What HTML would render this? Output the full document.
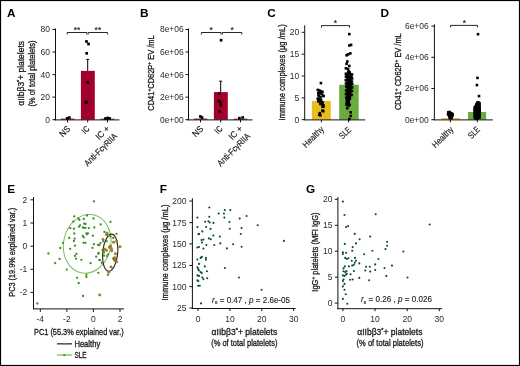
<!DOCTYPE html>
<html><head><meta charset="utf-8"><style>
html,body{margin:0;padding:0;background:#fff;}
svg{display:block;}
text{font-family:"Liberation Sans", sans-serif;}
</style></head><body>
<div style="will-change:transform;width:520px;height:366px;"><svg width="520" height="366" viewBox="0 0 520 366" font-family='"Liberation Sans", sans-serif'>
<rect width="520" height="366" fill="#fff"/>
<line x1="55.50" y1="28.50" x2="55.50" y2="120.20" stroke="#111" stroke-width="1"/>
<line x1="52.50" y1="29.50" x2="55.50" y2="29.50" stroke="#111" stroke-width="1"/>
<text x="50.00" y="32.40" font-size="9.0" text-anchor="end" fill="#2a2a2a" textLength="9.45" lengthAdjust="spacingAndGlyphs" >80</text>
<line x1="52.50" y1="52.05" x2="55.50" y2="52.05" stroke="#111" stroke-width="1"/>
<text x="50.00" y="54.95" font-size="9.0" text-anchor="end" fill="#2a2a2a" textLength="9.45" lengthAdjust="spacingAndGlyphs" >60</text>
<line x1="52.50" y1="74.60" x2="55.50" y2="74.60" stroke="#111" stroke-width="1"/>
<text x="50.00" y="77.50" font-size="9.0" text-anchor="end" fill="#2a2a2a" textLength="9.45" lengthAdjust="spacingAndGlyphs" >40</text>
<line x1="52.50" y1="97.15" x2="55.50" y2="97.15" stroke="#111" stroke-width="1"/>
<text x="50.00" y="100.05" font-size="9.0" text-anchor="end" fill="#2a2a2a" textLength="9.45" lengthAdjust="spacingAndGlyphs" >20</text>
<line x1="52.50" y1="119.70" x2="55.50" y2="119.70" stroke="#111" stroke-width="1"/>
<text x="50.00" y="122.60" font-size="9.0" text-anchor="end" fill="#2a2a2a" textLength="4.73" lengthAdjust="spacingAndGlyphs" >0</text>
<rect x="60.80" y="118.60" width="13.60" height="1.10" fill="#a3002b"/>
<rect x="80.90" y="70.90" width="13.90" height="48.80" fill="#a3002b"/>
<rect x="100.60" y="118.70" width="13.80" height="1.00" fill="#a3002b"/>
<line x1="87.70" y1="70.90" x2="87.70" y2="59.40" stroke="#000" stroke-width="1"/>
<line x1="86.20" y1="59.40" x2="89.20" y2="59.40" stroke="#000" stroke-width="1"/>
<line x1="54.50" y1="119.90" x2="119.50" y2="119.90" stroke="#111" stroke-width="1"/>
<line x1="67.50" y1="119.90" x2="67.50" y2="122.40" stroke="#111" stroke-width="1"/>
<line x1="87.70" y1="119.90" x2="87.70" y2="122.40" stroke="#111" stroke-width="1"/>
<line x1="107.50" y1="119.90" x2="107.50" y2="122.40" stroke="#111" stroke-width="1"/>
<rect x="65.85" y="117.05" width="2.7" height="2.7" fill="#000"/>
<rect x="67.95" y="116.25" width="2.7" height="2.7" fill="#000"/>
<rect x="85.15" y="40.15" width="2.7" height="2.7" fill="#000"/>
<rect x="87.15" y="42.65" width="2.7" height="2.7" fill="#000"/>
<rect x="85.35" y="51.95" width="2.7" height="2.7" fill="#000"/>
<rect x="86.25" y="81.15" width="2.7" height="2.7" fill="#000"/>
<rect x="85.15" y="100.55" width="2.7" height="2.7" fill="#000"/>
<rect x="84.65" y="101.25" width="2.7" height="2.7" fill="#000"/>
<rect x="104.15" y="117.15" width="2.7" height="2.7" fill="#000"/>
<rect x="106.25" y="116.65" width="2.7" height="2.7" fill="#000"/>
<rect x="108.25" y="117.15" width="2.7" height="2.7" fill="#000"/>
<polyline points="67.20,34.50 67.20,32.50 86.90,32.50 86.90,34.50" fill="none" stroke="#111" stroke-width="0.9"/>
<polyline points="88.20,34.50 88.20,32.50 107.60,32.50 107.60,34.50" fill="none" stroke="#111" stroke-width="0.9"/>
<text x="77.00" y="32.70" font-size="8.5" text-anchor="middle" fill="#111" stroke="#111" stroke-width="0.1" >**</text>
<text x="97.90" y="32.70" font-size="8.5" text-anchor="middle" fill="#111" stroke="#111" stroke-width="0.1" >**</text>
<text x="0" y="0" font-size="8.8" text-anchor="end" fill="#1a1a1a" stroke="#1a1a1a" stroke-width="0.18" textLength="11.50" lengthAdjust="spacingAndGlyphs" transform="translate(70.90,129.40) rotate(-45)" >NS</text>
<text x="0" y="0" font-size="8.8" text-anchor="end" fill="#1a1a1a" stroke="#1a1a1a" stroke-width="0.18" textLength="7.20" lengthAdjust="spacingAndGlyphs" transform="translate(90.20,129.40) rotate(-45)" >IC</text>
<text x="0" y="0" font-size="8.8" text-anchor="end" fill="#1a1a1a" stroke="#1a1a1a" stroke-width="0.18" textLength="15.50" lengthAdjust="spacingAndGlyphs" transform="translate(110.20,129.40) rotate(-45)" >IC +</text>
<text x="0" y="0" font-size="8.8" text-anchor="end" fill="#1a1a1a" stroke="#1a1a1a" stroke-width="0.18" textLength="42.50" lengthAdjust="spacingAndGlyphs" transform="translate(117.80,136.60) rotate(-45)" >Anti-Fc&#947;RIIA</text>
<text x="7.00" y="16.90" font-size="11.8" text-anchor="start" fill="#000" font-weight="bold" >A</text>
<text x="0" y="0" font-size="9.3" text-anchor="middle" fill="#1a1a1a" stroke="#1a1a1a" stroke-width="0.32" textLength="64.70" lengthAdjust="spacingAndGlyphs" transform="translate(23.50,73.40) rotate(-90)" >&#945;IIb&#946;3<tspan font-size="6" dy="-2.5">*</tspan><tspan dy="2.5">+ platelets</tspan></text>
<text x="0" y="0" font-size="9.3" text-anchor="middle" fill="#1a1a1a" stroke="#1a1a1a" stroke-width="0.32" textLength="66.00" lengthAdjust="spacingAndGlyphs" transform="translate(35.20,73.50) rotate(-90)" >(% of total platelets)</text>
<line x1="188.50" y1="28.50" x2="188.50" y2="120.20" stroke="#111" stroke-width="1"/>
<line x1="185.50" y1="29.50" x2="188.50" y2="29.50" stroke="#111" stroke-width="1"/>
<text x="183.80" y="32.40" font-size="9.0" text-anchor="end" fill="#2a2a2a" textLength="23.87" lengthAdjust="spacingAndGlyphs" >8e+06</text>
<line x1="185.50" y1="52.05" x2="188.50" y2="52.05" stroke="#111" stroke-width="1"/>
<text x="183.80" y="54.95" font-size="9.0" text-anchor="end" fill="#2a2a2a" textLength="23.87" lengthAdjust="spacingAndGlyphs" >6e+06</text>
<line x1="185.50" y1="74.60" x2="188.50" y2="74.60" stroke="#111" stroke-width="1"/>
<text x="183.80" y="77.50" font-size="9.0" text-anchor="end" fill="#2a2a2a" textLength="23.87" lengthAdjust="spacingAndGlyphs" >4e+06</text>
<line x1="185.50" y1="97.15" x2="188.50" y2="97.15" stroke="#111" stroke-width="1"/>
<text x="183.80" y="100.05" font-size="9.0" text-anchor="end" fill="#2a2a2a" textLength="23.87" lengthAdjust="spacingAndGlyphs" >2e+06</text>
<line x1="185.50" y1="119.70" x2="188.50" y2="119.70" stroke="#111" stroke-width="1"/>
<text x="183.80" y="122.60" font-size="9.0" text-anchor="end" fill="#2a2a2a" textLength="23.87" lengthAdjust="spacingAndGlyphs" >0e+00</text>
<rect x="193.80" y="118.60" width="13.60" height="1.10" fill="#a3002b"/>
<rect x="213.90" y="92.10" width="13.90" height="27.60" fill="#a3002b"/>
<rect x="233.60" y="118.70" width="13.80" height="1.00" fill="#a3002b"/>
<line x1="220.70" y1="92.10" x2="220.70" y2="81.20" stroke="#000" stroke-width="1"/>
<line x1="219.20" y1="81.20" x2="222.20" y2="81.20" stroke="#000" stroke-width="1"/>
<line x1="187.50" y1="119.90" x2="252.50" y2="119.90" stroke="#111" stroke-width="1"/>
<line x1="200.50" y1="119.90" x2="200.50" y2="122.40" stroke="#111" stroke-width="1"/>
<line x1="220.70" y1="119.90" x2="220.70" y2="122.40" stroke="#111" stroke-width="1"/>
<line x1="240.50" y1="119.90" x2="240.50" y2="122.40" stroke="#111" stroke-width="1"/>
<rect x="199.05" y="115.15" width="2.7" height="2.7" fill="#000"/>
<rect x="200.65" y="116.25" width="2.7" height="2.7" fill="#000"/>
<rect x="238.05" y="116.85" width="2.7" height="2.7" fill="#000"/>
<rect x="241.35" y="116.15" width="2.7" height="2.7" fill="#000"/>
<rect x="219.75" y="38.85" width="2.7" height="2.7" fill="#000"/>
<rect x="217.85" y="92.35" width="2.7" height="2.7" fill="#000"/>
<rect x="217.35" y="99.45" width="2.7" height="2.7" fill="#000"/>
<rect x="218.85" y="100.95" width="2.7" height="2.7" fill="#000"/>
<rect x="219.45" y="103.85" width="2.7" height="2.7" fill="#000"/>
<rect x="218.25" y="110.15" width="2.7" height="2.7" fill="#000"/>
<polyline points="201.40,34.50 201.40,32.50 221.10,32.50 221.10,34.50" fill="none" stroke="#111" stroke-width="0.9"/>
<polyline points="222.40,34.50 222.40,32.50 241.80,32.50 241.80,34.50" fill="none" stroke="#111" stroke-width="0.9"/>
<text x="211.20" y="32.70" font-size="8.5" text-anchor="middle" fill="#111" stroke="#111" stroke-width="0.1" >*</text>
<text x="232.10" y="32.70" font-size="8.5" text-anchor="middle" fill="#111" stroke="#111" stroke-width="0.1" >*</text>
<text x="0" y="0" font-size="8.8" text-anchor="end" fill="#1a1a1a" stroke="#1a1a1a" stroke-width="0.18" textLength="11.50" lengthAdjust="spacingAndGlyphs" transform="translate(203.90,129.40) rotate(-45)" >NS</text>
<text x="0" y="0" font-size="8.8" text-anchor="end" fill="#1a1a1a" stroke="#1a1a1a" stroke-width="0.18" textLength="7.20" lengthAdjust="spacingAndGlyphs" transform="translate(223.20,129.40) rotate(-45)" >IC</text>
<text x="0" y="0" font-size="8.8" text-anchor="end" fill="#1a1a1a" stroke="#1a1a1a" stroke-width="0.18" textLength="15.50" lengthAdjust="spacingAndGlyphs" transform="translate(243.20,129.40) rotate(-45)" >IC +</text>
<text x="0" y="0" font-size="8.8" text-anchor="end" fill="#1a1a1a" stroke="#1a1a1a" stroke-width="0.18" textLength="42.50" lengthAdjust="spacingAndGlyphs" transform="translate(250.80,136.60) rotate(-45)" >Anti-Fc&#947;RIIA</text>
<text x="140.00" y="16.90" font-size="11.8" text-anchor="start" fill="#000" font-weight="bold" >B</text>
<text x="0" y="0" font-size="9.3" text-anchor="middle" fill="#1a1a1a" stroke="#1a1a1a" stroke-width="0.32" textLength="75.40" lengthAdjust="spacingAndGlyphs" transform="translate(154.20,73.00) rotate(-90)" >CD41<tspan font-size="6" dy="-3">+</tspan><tspan dy="3">CD62P</tspan><tspan font-size="6" dy="-3">+</tspan><tspan dy="3"> EV /mL</tspan></text>
<text x="267.30" y="16.90" font-size="11.8" text-anchor="start" fill="#000" font-weight="bold" >C</text>
<line x1="304.70" y1="25.30" x2="304.70" y2="120.20" stroke="#111" stroke-width="1"/>
<line x1="301.70" y1="32.30" x2="304.70" y2="32.30" stroke="#111" stroke-width="1"/>
<text x="299.30" y="35.20" font-size="9.0" text-anchor="end" fill="#2a2a2a" textLength="9.45" lengthAdjust="spacingAndGlyphs" >20</text>
<line x1="301.70" y1="54.15" x2="304.70" y2="54.15" stroke="#111" stroke-width="1"/>
<text x="299.30" y="57.05" font-size="9.0" text-anchor="end" fill="#2a2a2a" textLength="9.45" lengthAdjust="spacingAndGlyphs" >15</text>
<line x1="301.70" y1="76.00" x2="304.70" y2="76.00" stroke="#111" stroke-width="1"/>
<text x="299.30" y="78.90" font-size="9.0" text-anchor="end" fill="#2a2a2a" textLength="9.45" lengthAdjust="spacingAndGlyphs" >10</text>
<line x1="301.70" y1="97.85" x2="304.70" y2="97.85" stroke="#111" stroke-width="1"/>
<text x="299.30" y="100.75" font-size="9.0" text-anchor="end" fill="#2a2a2a" textLength="4.73" lengthAdjust="spacingAndGlyphs" >5</text>
<line x1="301.70" y1="119.70" x2="304.70" y2="119.70" stroke="#111" stroke-width="1"/>
<text x="299.30" y="122.60" font-size="9.0" text-anchor="end" fill="#2a2a2a" textLength="4.73" lengthAdjust="spacingAndGlyphs" >0</text>
<rect x="311.90" y="100.90" width="18.90" height="18.80" fill="#e9bd1c"/>
<rect x="339.20" y="84.80" width="19.50" height="34.90" fill="#6aab3e"/>
<line x1="304.20" y1="119.90" x2="365.20" y2="119.90" stroke="#111" stroke-width="1"/>
<line x1="321.40" y1="119.90" x2="321.40" y2="122.40" stroke="#111" stroke-width="1"/>
<line x1="348.50" y1="119.90" x2="348.50" y2="122.40" stroke="#111" stroke-width="1"/>
<polyline points="321.40,27.60 321.40,25.60 349.50,25.60 349.50,27.60" fill="none" stroke="#111" stroke-width="0.9"/>
<text x="335.30" y="25.60" font-size="8.5" text-anchor="middle" fill="#111" stroke="#111" stroke-width="0.1" >*</text>
<rect x="319.60" y="81.80" width="2.6" height="2.6" fill="#000"/>
<rect x="316.50" y="88.60" width="2.6" height="2.6" fill="#000"/>
<rect x="318.00" y="89.10" width="2.6" height="2.6" fill="#000"/>
<rect x="319.60" y="90.10" width="2.6" height="2.6" fill="#000"/>
<rect x="321.20" y="90.60" width="2.6" height="2.6" fill="#000"/>
<rect x="317.00" y="91.70" width="2.6" height="2.6" fill="#000"/>
<rect x="318.60" y="91.20" width="2.6" height="2.6" fill="#000"/>
<rect x="321.70" y="94.30" width="2.6" height="2.6" fill="#000"/>
<rect x="322.20" y="94.80" width="2.6" height="2.6" fill="#000"/>
<rect x="317.50" y="94.80" width="2.6" height="2.6" fill="#000"/>
<rect x="319.10" y="95.80" width="2.6" height="2.6" fill="#000"/>
<rect x="316.50" y="97.40" width="2.6" height="2.6" fill="#000"/>
<rect x="318.00" y="97.90" width="2.6" height="2.6" fill="#000"/>
<rect x="319.60" y="98.40" width="2.6" height="2.6" fill="#000"/>
<rect x="317.00" y="100.00" width="2.6" height="2.6" fill="#000"/>
<rect x="318.60" y="100.50" width="2.6" height="2.6" fill="#000"/>
<rect x="321.20" y="101.00" width="2.6" height="2.6" fill="#000"/>
<rect x="319.10" y="102.60" width="2.6" height="2.6" fill="#000"/>
<rect x="321.20" y="103.10" width="2.6" height="2.6" fill="#000"/>
<rect x="322.20" y="104.10" width="2.6" height="2.6" fill="#000"/>
<rect x="321.20" y="105.20" width="2.6" height="2.6" fill="#000"/>
<rect x="322.00" y="105.50" width="2.6" height="2.6" fill="#000"/>
<rect x="321.20" y="109.30" width="2.6" height="2.6" fill="#000"/>
<rect x="322.00" y="109.90" width="2.6" height="2.6" fill="#000"/>
<rect x="318.60" y="111.90" width="2.6" height="2.6" fill="#000"/>
<rect x="318.00" y="113.50" width="2.6" height="2.6" fill="#000"/>
<rect x="319.10" y="114.00" width="2.6" height="2.6" fill="#000"/>
<rect x="317.20" y="93.20" width="2.6" height="2.6" fill="#000"/>
<rect x="320.20" y="92.70" width="2.6" height="2.6" fill="#000"/>
<rect x="319.70" y="99.20" width="2.6" height="2.6" fill="#000"/>
<rect x="348.00" y="32.80" width="2.6" height="2.6" fill="#000"/>
<rect x="348.00" y="44.20" width="2.6" height="2.6" fill="#000"/>
<rect x="349.80" y="43.60" width="2.6" height="2.6" fill="#000"/>
<rect x="345.30" y="54.00" width="2.6" height="2.6" fill="#000"/>
<rect x="346.70" y="53.10" width="2.6" height="2.6" fill="#000"/>
<rect x="349.00" y="52.10" width="2.6" height="2.6" fill="#000"/>
<rect x="346.00" y="60.20" width="2.6" height="2.6" fill="#000"/>
<rect x="345.30" y="62.50" width="2.6" height="2.6" fill="#000"/>
<rect x="348.00" y="64.70" width="2.6" height="2.6" fill="#000"/>
<rect x="344.60" y="67.00" width="2.6" height="2.6" fill="#000"/>
<rect x="346.70" y="67.70" width="2.6" height="2.6" fill="#000"/>
<rect x="347.40" y="70.10" width="2.6" height="2.6" fill="#000"/>
<rect x="348.00" y="71.10" width="2.6" height="2.6" fill="#000"/>
<rect x="345.30" y="73.80" width="2.6" height="2.6" fill="#000"/>
<rect x="347.40" y="74.50" width="2.6" height="2.6" fill="#000"/>
<rect x="349.40" y="73.80" width="2.6" height="2.6" fill="#000"/>
<rect x="350.10" y="75.20" width="2.6" height="2.6" fill="#000"/>
<rect x="345.30" y="103.50" width="2.6" height="2.6" fill="#000"/>
<rect x="347.40" y="104.20" width="2.6" height="2.6" fill="#000"/>
<rect x="346.00" y="106.90" width="2.6" height="2.6" fill="#000"/>
<rect x="349.40" y="111.00" width="2.6" height="2.6" fill="#000"/>
<rect x="349.40" y="114.70" width="2.6" height="2.6" fill="#000"/>
<rect x="348.00" y="117.80" width="2.6" height="2.6" fill="#000"/>
<polygon points="347.20,71.00 346.30,74.00 346.20,80.00 346.30,96.00 346.60,100.00 346.50,103.50 347.80,105.50 350.20,105.50 349.90,103.50 350.20,100.00 351.30,96.00 351.80,88.00 351.80,80.00 351.60,74.00 350.50,71.00" fill="#000"/>
<rect x="350.70" y="73.20" width="2.6" height="2.6" fill="#000"/>
<rect x="350.80" y="77.20" width="2.6" height="2.6" fill="#000"/>
<rect x="350.60" y="80.20" width="2.6" height="2.6" fill="#000"/>
<rect x="350.90" y="82.70" width="2.6" height="2.6" fill="#000"/>
<rect x="350.80" y="86.20" width="2.6" height="2.6" fill="#000"/>
<rect x="350.70" y="89.70" width="2.6" height="2.6" fill="#000"/>
<rect x="350.30" y="93.70" width="2.6" height="2.6" fill="#000"/>
<rect x="344.60" y="72.50" width="2.6" height="2.6" fill="#000"/>
<rect x="344.70" y="75.50" width="2.6" height="2.6" fill="#000"/>
<rect x="344.50" y="78.90" width="2.6" height="2.6" fill="#000"/>
<rect x="344.70" y="82.20" width="2.6" height="2.6" fill="#000"/>
<rect x="345.00" y="85.20" width="2.6" height="2.6" fill="#000"/>
<rect x="344.90" y="89.20" width="2.6" height="2.6" fill="#000"/>
<rect x="344.70" y="92.70" width="2.6" height="2.6" fill="#000"/>
<rect x="345.10" y="96.20" width="2.6" height="2.6" fill="#000"/>
<rect x="345.30" y="101.30" width="2.6" height="2.6" fill="#000"/>
<rect x="348.30" y="103.60" width="2.6" height="2.6" fill="#000"/>
<rect x="345.50" y="98.30" width="2.6" height="2.6" fill="#000"/>
<rect x="348.60" y="97.30" width="2.6" height="2.6" fill="#000"/>
<text x="0" y="0" font-size="9.3" text-anchor="middle" fill="#1a1a1a" stroke="#1a1a1a" stroke-width="0.32" textLength="96.20" lengthAdjust="spacingAndGlyphs" transform="translate(284.70,72.30) rotate(-90)" >Immune complexes (&#956;g /mL)</text>
<text x="0" y="0" font-size="8.8" text-anchor="end" fill="#1a1a1a" stroke="#1a1a1a" stroke-width="0.18" textLength="26.00" lengthAdjust="spacingAndGlyphs" transform="translate(324.40,129.80) rotate(-45)" >Healthy</text>
<text x="0" y="0" font-size="8.8" text-anchor="end" fill="#1a1a1a" stroke="#1a1a1a" stroke-width="0.18" textLength="13.00" lengthAdjust="spacingAndGlyphs" transform="translate(351.80,130.40) rotate(-45)" >SLE</text>
<text x="380.50" y="16.90" font-size="11.8" text-anchor="start" fill="#000" font-weight="bold" >D</text>
<line x1="434.40" y1="24.30" x2="434.40" y2="120.20" stroke="#111" stroke-width="1"/>
<line x1="431.40" y1="26.10" x2="434.40" y2="26.10" stroke="#111" stroke-width="1"/>
<text x="428.80" y="29.00" font-size="9.0" text-anchor="end" fill="#2a2a2a" textLength="23.87" lengthAdjust="spacingAndGlyphs" >6e+06</text>
<line x1="431.40" y1="57.30" x2="434.40" y2="57.30" stroke="#111" stroke-width="1"/>
<text x="428.80" y="60.20" font-size="9.0" text-anchor="end" fill="#2a2a2a" textLength="23.87" lengthAdjust="spacingAndGlyphs" >4e+06</text>
<line x1="431.40" y1="88.50" x2="434.40" y2="88.50" stroke="#111" stroke-width="1"/>
<text x="428.80" y="91.40" font-size="9.0" text-anchor="end" fill="#2a2a2a" textLength="23.87" lengthAdjust="spacingAndGlyphs" >2e+06</text>
<line x1="431.40" y1="119.70" x2="434.40" y2="119.70" stroke="#111" stroke-width="1"/>
<text x="428.80" y="122.60" font-size="9.0" text-anchor="end" fill="#2a2a2a" textLength="23.87" lengthAdjust="spacingAndGlyphs" >0e+00</text>
<rect x="441.50" y="118.10" width="18.30" height="1.60" fill="#e9bd1c"/>
<rect x="468.00" y="112.00" width="18.20" height="7.70" fill="#6aab3e"/>
<line x1="433.90" y1="119.90" x2="492.80" y2="119.90" stroke="#111" stroke-width="1"/>
<line x1="450.40" y1="119.90" x2="450.40" y2="122.40" stroke="#111" stroke-width="1"/>
<line x1="477.30" y1="119.90" x2="477.30" y2="122.40" stroke="#111" stroke-width="1"/>
<polyline points="450.60,27.40 450.60,25.40 477.50,25.40 477.50,27.40" fill="none" stroke="#111" stroke-width="0.9"/>
<text x="464.30" y="25.70" font-size="8.5" text-anchor="middle" fill="#111" stroke="#111" stroke-width="0.1" >*</text>
<rect x="476.70" y="32.90" width="2.6" height="2.6" fill="#000"/>
<rect x="476.20" y="76.60" width="2.6" height="2.6" fill="#000"/>
<rect x="475.60" y="83.80" width="2.6" height="2.6" fill="#000"/>
<rect x="477.70" y="94.80" width="2.6" height="2.6" fill="#000"/>
<rect x="447.00" y="111.00" width="2.6" height="2.6" fill="#000"/>
<rect x="448.30" y="110.70" width="2.6" height="2.6" fill="#000"/>
<rect x="449.50" y="111.90" width="2.6" height="2.6" fill="#000"/>
<rect x="451.00" y="112.70" width="2.6" height="2.6" fill="#000"/>
<rect x="451.30" y="114.20" width="2.6" height="2.6" fill="#000"/>
<rect x="446.70" y="112.90" width="2.6" height="2.6" fill="#000"/>
<rect x="448.20" y="113.90" width="2.6" height="2.6" fill="#000"/>
<rect x="449.70" y="114.70" width="2.6" height="2.6" fill="#000"/>
<rect x="448.20" y="115.70" width="2.6" height="2.6" fill="#000"/>
<rect x="450.20" y="116.00" width="2.6" height="2.6" fill="#000"/>
<rect x="449.00" y="116.90" width="2.6" height="2.6" fill="#000"/>
<rect x="476.30" y="101.00" width="2.6" height="2.6" fill="#000"/>
<rect x="478.00" y="101.90" width="2.6" height="2.6" fill="#000"/>
<rect x="475.50" y="103.20" width="2.6" height="2.6" fill="#000"/>
<rect x="477.30" y="104.00" width="2.6" height="2.6" fill="#000"/>
<rect x="473.70" y="106.00" width="2.6" height="2.6" fill="#000"/>
<rect x="475.30" y="106.50" width="2.6" height="2.6" fill="#000"/>
<rect x="477.50" y="106.90" width="2.6" height="2.6" fill="#000"/>
<rect x="478.30" y="109.00" width="2.6" height="2.6" fill="#000"/>
<rect x="473.40" y="108.90" width="2.6" height="2.6" fill="#000"/>
<rect x="475.50" y="109.70" width="2.6" height="2.6" fill="#000"/>
<rect x="477.50" y="111.00" width="2.6" height="2.6" fill="#000"/>
<rect x="473.70" y="111.70" width="2.6" height="2.6" fill="#000"/>
<rect x="475.30" y="113.20" width="2.6" height="2.6" fill="#000"/>
<rect x="477.70" y="113.90" width="2.6" height="2.6" fill="#000"/>
<rect x="473.50" y="114.70" width="2.6" height="2.6" fill="#000"/>
<rect x="475.20" y="116.20" width="2.6" height="2.6" fill="#000"/>
<rect x="477.30" y="116.30" width="2.6" height="2.6" fill="#000"/>
<rect x="474.20" y="117.20" width="2.6" height="2.6" fill="#000"/>
<rect x="476.20" y="117.30" width="2.6" height="2.6" fill="#000"/>
<rect x="478.10" y="105.30" width="2.6" height="2.6" fill="#000"/>
<polygon points="477.50,101.00 475.90,102.30 474.60,105.30 473.40,107.00 473.40,118.80 480.90,118.80 480.90,106.20 480.60,102.50 479.00,101.00" fill="#000"/>
<polygon points="448.10,111.30 447.30,113.00 447.40,116.00 448.60,117.00 448.60,119.30 452.90,119.30 452.90,117.20 453.80,115.20 453.50,113.00 451.30,112.00 450.00,111.30" fill="#000"/>
<text x="0" y="0" font-size="9.3" text-anchor="middle" fill="#1a1a1a" stroke="#1a1a1a" stroke-width="0.32" textLength="76.80" lengthAdjust="spacingAndGlyphs" transform="translate(400.50,71.70) rotate(-90)" >CD41<tspan font-size="6" dy="-3">+</tspan><tspan dy="3"> CD62P</tspan><tspan font-size="6" dy="-3">+</tspan><tspan dy="3"> EV /mL</tspan></text>
<text x="0" y="0" font-size="8.8" text-anchor="end" fill="#1a1a1a" stroke="#1a1a1a" stroke-width="0.18" textLength="26.00" lengthAdjust="spacingAndGlyphs" transform="translate(454.00,130.00) rotate(-45)" >Healthy</text>
<text x="0" y="0" font-size="8.8" text-anchor="end" fill="#1a1a1a" stroke="#1a1a1a" stroke-width="0.18" textLength="13.00" lengthAdjust="spacingAndGlyphs" transform="translate(480.60,130.00) rotate(-45)" >SLE</text>
<text x="7.30" y="192.60" font-size="11.8" text-anchor="start" fill="#000" font-weight="bold" >E</text>
<line x1="33.50" y1="197.00" x2="33.50" y2="309.20" stroke="#111" stroke-width="1"/>
<line x1="30.50" y1="199.80" x2="33.50" y2="199.80" stroke="#111" stroke-width="1"/>
<text x="27.30" y="202.70" font-size="9.0" text-anchor="end" fill="#2a2a2a" textLength="4.73" lengthAdjust="spacingAndGlyphs" >2</text>
<line x1="30.50" y1="223.00" x2="33.50" y2="223.00" stroke="#111" stroke-width="1"/>
<text x="27.30" y="225.90" font-size="9.0" text-anchor="end" fill="#2a2a2a" textLength="4.73" lengthAdjust="spacingAndGlyphs" >1</text>
<line x1="30.50" y1="246.20" x2="33.50" y2="246.20" stroke="#111" stroke-width="1"/>
<text x="27.30" y="249.10" font-size="9.0" text-anchor="end" fill="#2a2a2a" textLength="4.73" lengthAdjust="spacingAndGlyphs" >0</text>
<line x1="30.50" y1="269.30" x2="33.50" y2="269.30" stroke="#111" stroke-width="1"/>
<text x="27.30" y="272.20" font-size="9.0" text-anchor="end" fill="#2a2a2a" textLength="7.56" lengthAdjust="spacingAndGlyphs" >-1</text>
<line x1="30.50" y1="292.40" x2="33.50" y2="292.40" stroke="#111" stroke-width="1"/>
<text x="27.30" y="295.30" font-size="9.0" text-anchor="end" fill="#2a2a2a" textLength="7.56" lengthAdjust="spacingAndGlyphs" >-2</text>
<line x1="33.00" y1="308.90" x2="124.00" y2="308.90" stroke="#111" stroke-width="1"/>
<line x1="40.30" y1="308.90" x2="40.30" y2="311.90" stroke="#111" stroke-width="1"/>
<line x1="66.90" y1="308.90" x2="66.90" y2="311.90" stroke="#111" stroke-width="1"/>
<line x1="93.40" y1="308.90" x2="93.40" y2="311.90" stroke="#111" stroke-width="1"/>
<line x1="120.00" y1="308.90" x2="120.00" y2="311.90" stroke="#111" stroke-width="1"/>
<text x="40.30" y="321.60" font-size="9.0" text-anchor="middle" fill="#2a2a2a" textLength="7.56" lengthAdjust="spacingAndGlyphs" >-4</text>
<text x="66.90" y="321.60" font-size="9.0" text-anchor="middle" fill="#2a2a2a" textLength="7.56" lengthAdjust="spacingAndGlyphs" >-2</text>
<text x="93.40" y="321.60" font-size="9.0" text-anchor="middle" fill="#2a2a2a" textLength="4.73" lengthAdjust="spacingAndGlyphs" >0</text>
<text x="120.00" y="321.60" font-size="9.0" text-anchor="middle" fill="#2a2a2a" textLength="4.73" lengthAdjust="spacingAndGlyphs" >2</text>
<text x="78.85" y="334.50" font-size="9.3" text-anchor="middle" fill="#1a1a1a" stroke="#1a1a1a" stroke-width="0.32" textLength="89.60" lengthAdjust="spacingAndGlyphs" >PC1 (55.3% explained var.)</text>
<text x="0" y="0" font-size="9.3" text-anchor="middle" fill="#1a1a1a" stroke="#1a1a1a" stroke-width="0.32" textLength="89.00" lengthAdjust="spacingAndGlyphs" transform="translate(14.90,252.20) rotate(-90)" >PC3 (19.9% explained var.)</text>
<ellipse cx="87.2" cy="243.8" rx="23.6" ry="29.6" transform="rotate(12 87.2 243.8)" fill="none" stroke="#7cc05a" stroke-width="1"/>
<ellipse cx="110.2" cy="252.7" rx="7.5" ry="18.6" transform="rotate(5 110.2 252.7)" fill="none" stroke="#222" stroke-width="1.1"/>
<circle cx="74.30" cy="216.40" r="1.15" fill="#3a901a"/>
<circle cx="78.40" cy="218.50" r="1.15" fill="#3a901a"/>
<circle cx="79.40" cy="219.90" r="1.15" fill="#3a901a"/>
<circle cx="83.80" cy="218.90" r="1.15" fill="#3a901a"/>
<circle cx="73.30" cy="221.60" r="1.15" fill="#3a901a"/>
<circle cx="84.20" cy="223.70" r="1.15" fill="#3a901a"/>
<circle cx="80.10" cy="225.30" r="1.15" fill="#3a901a"/>
<circle cx="79.00" cy="226.70" r="1.15" fill="#3a901a"/>
<circle cx="82.80" cy="227.40" r="1.15" fill="#3a901a"/>
<circle cx="84.20" cy="227.80" r="1.15" fill="#3a901a"/>
<circle cx="70.20" cy="228.20" r="1.15" fill="#3a901a"/>
<circle cx="73.90" cy="228.70" r="1.15" fill="#3a901a"/>
<circle cx="74.30" cy="233.50" r="1.15" fill="#3a901a"/>
<circle cx="69.20" cy="238.00" r="1.15" fill="#3a901a"/>
<circle cx="74.60" cy="238.70" r="1.15" fill="#3a901a"/>
<circle cx="73.90" cy="241.00" r="1.15" fill="#3a901a"/>
<circle cx="82.80" cy="236.00" r="1.15" fill="#3a901a"/>
<circle cx="83.90" cy="237.30" r="1.15" fill="#3a901a"/>
<circle cx="63.00" cy="242.80" r="1.15" fill="#3a901a"/>
<circle cx="83.50" cy="242.80" r="1.15" fill="#3a901a"/>
<circle cx="93.90" cy="201.40" r="1.15" fill="#3a901a"/>
<circle cx="87.00" cy="215.50" r="1.15" fill="#3a901a"/>
<circle cx="93.50" cy="218.50" r="1.15" fill="#3a901a"/>
<circle cx="110.50" cy="221.90" r="1.15" fill="#3a901a"/>
<circle cx="100.70" cy="224.40" r="1.15" fill="#3a901a"/>
<circle cx="85.40" cy="224.00" r="1.15" fill="#3a901a"/>
<circle cx="85.40" cy="227.80" r="1.15" fill="#3a901a"/>
<circle cx="88.80" cy="228.10" r="1.15" fill="#3a901a"/>
<circle cx="94.30" cy="227.40" r="1.15" fill="#3a901a"/>
<circle cx="86.40" cy="233.30" r="1.15" fill="#3a901a"/>
<circle cx="88.00" cy="233.30" r="1.15" fill="#3a901a"/>
<circle cx="86.90" cy="234.30" r="1.15" fill="#3a901a"/>
<circle cx="92.90" cy="235.70" r="1.15" fill="#3a901a"/>
<circle cx="104.40" cy="231.90" r="1.15" fill="#3a901a"/>
<circle cx="116.60" cy="233.80" r="1.15" fill="#3a901a"/>
<circle cx="85.40" cy="242.80" r="1.15" fill="#3a901a"/>
<circle cx="93.90" cy="244.20" r="1.15" fill="#3a901a"/>
<circle cx="98.00" cy="244.90" r="1.15" fill="#3a901a"/>
<circle cx="100.50" cy="243.20" r="1.15" fill="#3a901a"/>
<circle cx="103.40" cy="241.40" r="1.15" fill="#3a901a"/>
<circle cx="106.60" cy="241.20" r="1.15" fill="#3a901a"/>
<circle cx="113.30" cy="238.00" r="1.15" fill="#3a901a"/>
<circle cx="106.20" cy="234.70" r="1.15" fill="#3a901a"/>
<circle cx="110.40" cy="236.50" r="1.15" fill="#3a901a"/>
<circle cx="60.30" cy="248.00" r="1.15" fill="#3a901a"/>
<circle cx="48.40" cy="253.50" r="1.15" fill="#3a901a"/>
<circle cx="59.60" cy="258.90" r="1.15" fill="#3a901a"/>
<circle cx="55.20" cy="263.20" r="1.15" fill="#3a901a"/>
<circle cx="66.80" cy="269.60" r="1.15" fill="#3a901a"/>
<circle cx="70.20" cy="248.80" r="1.15" fill="#3a901a"/>
<circle cx="75.00" cy="245.70" r="1.15" fill="#3a901a"/>
<circle cx="76.40" cy="253.90" r="1.15" fill="#3a901a"/>
<circle cx="74.90" cy="255.90" r="1.15" fill="#3a901a"/>
<circle cx="76.00" cy="258.70" r="1.15" fill="#3a901a"/>
<circle cx="81.40" cy="259.80" r="1.15" fill="#3a901a"/>
<circle cx="77.10" cy="277.80" r="1.15" fill="#3a901a"/>
<circle cx="78.70" cy="283.00" r="1.15" fill="#3a901a"/>
<circle cx="99.30" cy="245.20" r="1.15" fill="#3a901a"/>
<circle cx="92.50" cy="247.90" r="1.15" fill="#3a901a"/>
<circle cx="98.30" cy="253.70" r="1.15" fill="#3a901a"/>
<circle cx="96.20" cy="256.70" r="1.15" fill="#3a901a"/>
<circle cx="99.80" cy="260.20" r="1.15" fill="#3a901a"/>
<circle cx="90.50" cy="263.20" r="1.15" fill="#3a901a"/>
<circle cx="110.30" cy="246.10" r="1.15" fill="#3a901a"/>
<circle cx="102.80" cy="250.90" r="1.15" fill="#3a901a"/>
<circle cx="108.20" cy="254.30" r="1.15" fill="#3a901a"/>
<circle cx="106.90" cy="256.10" r="1.15" fill="#3a901a"/>
<circle cx="98.30" cy="272.80" r="1.15" fill="#3a901a"/>
<circle cx="108.00" cy="274.80" r="1.15" fill="#3a901a"/>
<circle cx="86.40" cy="274.80" r="1.15" fill="#3a901a"/>
<circle cx="86.40" cy="276.90" r="1.15" fill="#3a901a"/>
<circle cx="102.60" cy="250.00" r="1.15" fill="#3a901a"/>
<circle cx="98.70" cy="252.90" r="1.15" fill="#3a901a"/>
<circle cx="104.00" cy="255.70" r="1.15" fill="#3a901a"/>
<circle cx="99.40" cy="259.90" r="1.15" fill="#3a901a"/>
<circle cx="37.30" cy="303.50" r="1.15" fill="#3a901a"/>
<circle cx="83.00" cy="296.00" r="1.15" fill="#3a901a"/>
<circle cx="106.90" cy="233.10" r="1.2" fill="#b8860b" stroke="#6b5a2a" stroke-width="0.45"/>
<circle cx="108.50" cy="235.10" r="1.2" fill="#b8860b" stroke="#6b5a2a" stroke-width="0.45"/>
<circle cx="103.00" cy="239.40" r="1.2" fill="#b8860b" stroke="#6b5a2a" stroke-width="0.45"/>
<circle cx="113.60" cy="242.20" r="1.2" fill="#b8860b" stroke="#6b5a2a" stroke-width="0.45"/>
<circle cx="116.60" cy="241.10" r="1.2" fill="#b8860b" stroke="#6b5a2a" stroke-width="0.45"/>
<circle cx="120.00" cy="246.80" r="1.2" fill="#b8860b" stroke="#6b5a2a" stroke-width="0.45"/>
<circle cx="104.70" cy="249.30" r="1.2" fill="#b8860b" stroke="#6b5a2a" stroke-width="0.45"/>
<circle cx="106.50" cy="250.40" r="1.2" fill="#b8860b" stroke="#6b5a2a" stroke-width="0.45"/>
<circle cx="110.40" cy="246.10" r="1.2" fill="#b8860b" stroke="#6b5a2a" stroke-width="0.45"/>
<circle cx="109.40" cy="247.50" r="1.2" fill="#b8860b" stroke="#6b5a2a" stroke-width="0.45"/>
<circle cx="111.50" cy="248.60" r="1.2" fill="#b8860b" stroke="#6b5a2a" stroke-width="0.45"/>
<circle cx="111.80" cy="250.70" r="1.2" fill="#b8860b" stroke="#6b5a2a" stroke-width="0.45"/>
<circle cx="103.70" cy="252.50" r="1.2" fill="#b8860b" stroke="#6b5a2a" stroke-width="0.45"/>
<circle cx="115.40" cy="253.80" r="1.2" fill="#b8860b" stroke="#6b5a2a" stroke-width="0.45"/>
<circle cx="113.60" cy="258.50" r="1.2" fill="#b8860b" stroke="#6b5a2a" stroke-width="0.45"/>
<circle cx="114.70" cy="257.80" r="1.2" fill="#b8860b" stroke="#6b5a2a" stroke-width="0.45"/>
<circle cx="114.30" cy="259.60" r="1.2" fill="#b8860b" stroke="#6b5a2a" stroke-width="0.45"/>
<circle cx="115.00" cy="260.70" r="1.2" fill="#b8860b" stroke="#6b5a2a" stroke-width="0.45"/>
<circle cx="116.60" cy="261.70" r="1.2" fill="#b8860b" stroke="#6b5a2a" stroke-width="0.45"/>
<circle cx="102.10" cy="262.80" r="1.2" fill="#b8860b" stroke="#6b5a2a" stroke-width="0.45"/>
<circle cx="111.10" cy="267.00" r="1.2" fill="#b8860b" stroke="#6b5a2a" stroke-width="0.45"/>
<circle cx="108.70" cy="272.20" r="1.2" fill="#b8860b" stroke="#6b5a2a" stroke-width="0.45"/>
<circle cx="99.70" cy="294.90" r="1.2" fill="#b8860b" stroke="#6b5a2a" stroke-width="0.45"/>
<line x1="57.00" y1="343.80" x2="72.00" y2="343.80" stroke="#555" stroke-width="1.6"/>
<circle cx="64.30" cy="343.80" r="1.1" fill="#b07d0c"/>
<text x="74.40" y="346.90" font-size="8.5" text-anchor="start" fill="#1a1a1a" stroke="#1a1a1a" stroke-width="0.32" textLength="25.80" lengthAdjust="spacingAndGlyphs" >Healthy</text>
<line x1="57.00" y1="355.10" x2="72.00" y2="355.10" stroke="#93cf78" stroke-width="1.6"/>
<circle cx="64.30" cy="355.10" r="1.1" fill="#3a901a"/>
<text x="74.40" y="358.20" font-size="8.5" text-anchor="start" fill="#1a1a1a" stroke="#1a1a1a" stroke-width="0.32" textLength="12.20" lengthAdjust="spacingAndGlyphs" >SLE</text>
<text x="159.80" y="192.60" font-size="11.8" text-anchor="start" fill="#000" font-weight="bold" >F</text>
<line x1="192.40" y1="198.30" x2="192.40" y2="308.90" stroke="#111" stroke-width="1"/>
<line x1="189.40" y1="201.00" x2="192.40" y2="201.00" stroke="#111" stroke-width="1"/>
<text x="186.40" y="203.90" font-size="9.0" text-anchor="end" fill="#2a2a2a" textLength="14.18" lengthAdjust="spacingAndGlyphs" >200</text>
<line x1="189.40" y1="222.60" x2="192.40" y2="222.60" stroke="#111" stroke-width="1"/>
<text x="186.40" y="225.50" font-size="9.0" text-anchor="end" fill="#2a2a2a" textLength="14.18" lengthAdjust="spacingAndGlyphs" >175</text>
<line x1="189.40" y1="243.90" x2="192.40" y2="243.90" stroke="#111" stroke-width="1"/>
<text x="186.40" y="246.80" font-size="9.0" text-anchor="end" fill="#2a2a2a" textLength="14.18" lengthAdjust="spacingAndGlyphs" >150</text>
<line x1="189.40" y1="265.50" x2="192.40" y2="265.50" stroke="#111" stroke-width="1"/>
<text x="186.40" y="268.40" font-size="9.0" text-anchor="end" fill="#2a2a2a" textLength="14.18" lengthAdjust="spacingAndGlyphs" >125</text>
<line x1="189.40" y1="286.60" x2="192.40" y2="286.60" stroke="#111" stroke-width="1"/>
<text x="186.40" y="289.50" font-size="9.0" text-anchor="end" fill="#2a2a2a" textLength="14.18" lengthAdjust="spacingAndGlyphs" >100</text>
<line x1="189.40" y1="308.00" x2="192.40" y2="308.00" stroke="#111" stroke-width="1"/>
<text x="186.40" y="310.90" font-size="9.0" text-anchor="end" fill="#2a2a2a" textLength="9.45" lengthAdjust="spacingAndGlyphs" >25</text>
<line x1="191.90" y1="308.50" x2="295.60" y2="308.50" stroke="#111" stroke-width="1"/>
<line x1="198.00" y1="308.50" x2="198.00" y2="311.00" stroke="#111" stroke-width="1"/>
<line x1="229.90" y1="308.50" x2="229.90" y2="311.00" stroke="#111" stroke-width="1"/>
<line x1="261.80" y1="308.50" x2="261.80" y2="311.00" stroke="#111" stroke-width="1"/>
<line x1="293.70" y1="308.50" x2="293.70" y2="311.00" stroke="#111" stroke-width="1"/>
<text x="198.00" y="321.60" font-size="9.0" text-anchor="middle" fill="#2a2a2a" textLength="4.73" lengthAdjust="spacingAndGlyphs" >0</text>
<text x="229.90" y="321.60" font-size="9.0" text-anchor="middle" fill="#2a2a2a" textLength="9.45" lengthAdjust="spacingAndGlyphs" >10</text>
<text x="261.80" y="321.60" font-size="9.0" text-anchor="middle" fill="#2a2a2a" textLength="9.45" lengthAdjust="spacingAndGlyphs" >20</text>
<text x="293.70" y="321.60" font-size="9.0" text-anchor="middle" fill="#2a2a2a" textLength="9.45" lengthAdjust="spacingAndGlyphs" >30</text>
<text x="244.40" y="334.90" font-size="9.3" text-anchor="middle" fill="#1a1a1a" stroke="#1a1a1a" stroke-width="0.32" textLength="65.70" lengthAdjust="spacingAndGlyphs" >&#945;IIb&#946;3<tspan font-size="6" dy="-2.5">*</tspan><tspan dy="2.5">+ platelets</tspan></text>
<text x="244.30" y="345.50" font-size="9.3" text-anchor="middle" fill="#1a1a1a" stroke="#1a1a1a" stroke-width="0.32" textLength="66.30" lengthAdjust="spacingAndGlyphs" >(% of total platelets)</text>
<text x="0" y="0" font-size="9.3" text-anchor="middle" fill="#1a1a1a" stroke="#1a1a1a" stroke-width="0.32" textLength="96.00" lengthAdjust="spacingAndGlyphs" transform="translate(167.60,252.50) rotate(-90)" >Immune complexes (&#956;g /mL)</text>
<circle cx="209.30" cy="207.50" r="1.05" fill="#0d4a2f"/>
<circle cx="224.80" cy="210.10" r="1.05" fill="#0d4a2f"/>
<circle cx="230.30" cy="210.10" r="1.05" fill="#0d4a2f"/>
<circle cx="218.70" cy="213.50" r="1.05" fill="#0d4a2f"/>
<circle cx="223.90" cy="213.50" r="1.05" fill="#0d4a2f"/>
<circle cx="246.60" cy="216.00" r="1.05" fill="#0d4a2f"/>
<circle cx="197.40" cy="217.60" r="1.05" fill="#0d4a2f"/>
<circle cx="209.30" cy="216.80" r="1.05" fill="#0d4a2f"/>
<circle cx="224.40" cy="217.60" r="1.05" fill="#0d4a2f"/>
<circle cx="239.70" cy="218.60" r="1.05" fill="#0d4a2f"/>
<circle cx="205.10" cy="221.70" r="1.05" fill="#0d4a2f"/>
<circle cx="208.40" cy="221.20" r="1.05" fill="#0d4a2f"/>
<circle cx="209.70" cy="222.50" r="1.05" fill="#0d4a2f"/>
<circle cx="213.40" cy="222.90" r="1.05" fill="#0d4a2f"/>
<circle cx="229.50" cy="222.00" r="1.05" fill="#0d4a2f"/>
<circle cx="197.40" cy="227.10" r="1.05" fill="#0d4a2f"/>
<circle cx="206.10" cy="227.00" r="1.05" fill="#0d4a2f"/>
<circle cx="210.50" cy="228.90" r="1.05" fill="#0d4a2f"/>
<circle cx="229.80" cy="228.80" r="1.05" fill="#0d4a2f"/>
<circle cx="241.60" cy="228.10" r="1.05" fill="#0d4a2f"/>
<circle cx="199.00" cy="233.90" r="1.05" fill="#0d4a2f"/>
<circle cx="198.50" cy="234.30" r="1.05" fill="#0d4a2f"/>
<circle cx="202.30" cy="231.40" r="1.05" fill="#0d4a2f"/>
<circle cx="213.40" cy="235.50" r="1.05" fill="#0d4a2f"/>
<circle cx="219.80" cy="236.60" r="1.05" fill="#0d4a2f"/>
<circle cx="240.80" cy="234.00" r="1.05" fill="#0d4a2f"/>
<circle cx="208.90" cy="238.40" r="1.05" fill="#0d4a2f"/>
<circle cx="210.80" cy="239.30" r="1.05" fill="#0d4a2f"/>
<circle cx="201.50" cy="240.10" r="1.05" fill="#0d4a2f"/>
<circle cx="203.40" cy="239.60" r="1.05" fill="#0d4a2f"/>
<circle cx="202.00" cy="242.50" r="1.05" fill="#0d4a2f"/>
<circle cx="220.30" cy="243.40" r="1.05" fill="#0d4a2f"/>
<circle cx="206.40" cy="245.00" r="1.05" fill="#0d4a2f"/>
<circle cx="214.30" cy="245.00" r="1.05" fill="#0d4a2f"/>
<circle cx="233.10" cy="244.20" r="1.05" fill="#0d4a2f"/>
<circle cx="197.40" cy="247.50" r="1.05" fill="#0d4a2f"/>
<circle cx="199.00" cy="247.00" r="1.05" fill="#0d4a2f"/>
<circle cx="203.40" cy="248.60" r="1.05" fill="#0d4a2f"/>
<circle cx="226.90" cy="248.40" r="1.05" fill="#0d4a2f"/>
<circle cx="241.60" cy="246.80" r="1.05" fill="#0d4a2f"/>
<circle cx="257.70" cy="225.30" r="1.05" fill="#0d4a2f"/>
<circle cx="283.90" cy="240.90" r="1.05" fill="#0d4a2f"/>
<circle cx="197.40" cy="259.50" r="1.05" fill="#0d4a2f"/>
<circle cx="200.70" cy="257.90" r="1.05" fill="#0d4a2f"/>
<circle cx="201.80" cy="256.90" r="1.05" fill="#0d4a2f"/>
<circle cx="205.90" cy="257.90" r="1.05" fill="#0d4a2f"/>
<circle cx="205.90" cy="259.80" r="1.05" fill="#0d4a2f"/>
<circle cx="199.00" cy="263.90" r="1.05" fill="#0d4a2f"/>
<circle cx="204.80" cy="266.40" r="1.05" fill="#0d4a2f"/>
<circle cx="197.40" cy="267.20" r="1.05" fill="#0d4a2f"/>
<circle cx="198.20" cy="268.90" r="1.05" fill="#0d4a2f"/>
<circle cx="199.00" cy="270.50" r="1.05" fill="#0d4a2f"/>
<circle cx="200.70" cy="272.10" r="1.05" fill="#0d4a2f"/>
<circle cx="201.80" cy="273.00" r="1.05" fill="#0d4a2f"/>
<circle cx="206.90" cy="271.30" r="1.05" fill="#0d4a2f"/>
<circle cx="224.90" cy="268.00" r="1.05" fill="#0d4a2f"/>
<circle cx="197.40" cy="275.40" r="1.05" fill="#0d4a2f"/>
<circle cx="199.00" cy="275.90" r="1.05" fill="#0d4a2f"/>
<circle cx="202.30" cy="277.50" r="1.05" fill="#0d4a2f"/>
<circle cx="203.40" cy="279.20" r="1.05" fill="#0d4a2f"/>
<circle cx="207.20" cy="278.20" r="1.05" fill="#0d4a2f"/>
<circle cx="197.40" cy="280.30" r="1.05" fill="#0d4a2f"/>
<circle cx="198.20" cy="281.10" r="1.05" fill="#0d4a2f"/>
<circle cx="198.20" cy="285.70" r="1.05" fill="#0d4a2f"/>
<circle cx="199.80" cy="285.70" r="1.05" fill="#0d4a2f"/>
<circle cx="238.90" cy="277.50" r="1.05" fill="#0d4a2f"/>
<circle cx="201.00" cy="303.40" r="1.05" fill="#0d4a2f"/>
<circle cx="261.60" cy="289.80" r="1.05" fill="#0d4a2f"/>
<text x="212.00" y="302.50" font-size="8.7" text-anchor="start" fill="#1a1a1a" stroke="#1a1a1a" stroke-width="0.12" textLength="78.00" lengthAdjust="spacingAndGlyphs" ><tspan font-style="italic">r</tspan><tspan font-size="6" dy="1.8">s</tspan><tspan dy="-1.8"> = 0.47 , </tspan><tspan font-style="italic">p</tspan> = 2.6e-05</text>
<text x="306.00" y="192.80" font-size="11.8" text-anchor="start" fill="#000" font-weight="bold" >G</text>
<line x1="337.90" y1="197.00" x2="337.90" y2="309.10" stroke="#111" stroke-width="1"/>
<line x1="334.90" y1="199.30" x2="337.90" y2="199.30" stroke="#111" stroke-width="1"/>
<text x="332.40" y="202.20" font-size="9.0" text-anchor="end" fill="#2a2a2a" textLength="9.45" lengthAdjust="spacingAndGlyphs" >20</text>
<line x1="334.90" y1="225.30" x2="337.90" y2="225.30" stroke="#111" stroke-width="1"/>
<text x="332.40" y="228.20" font-size="9.0" text-anchor="end" fill="#2a2a2a" textLength="9.45" lengthAdjust="spacingAndGlyphs" >15</text>
<line x1="334.90" y1="251.20" x2="337.90" y2="251.20" stroke="#111" stroke-width="1"/>
<text x="332.40" y="254.10" font-size="9.0" text-anchor="end" fill="#2a2a2a" textLength="9.45" lengthAdjust="spacingAndGlyphs" >10</text>
<line x1="334.90" y1="277.20" x2="337.90" y2="277.20" stroke="#111" stroke-width="1"/>
<text x="332.40" y="280.10" font-size="9.0" text-anchor="end" fill="#2a2a2a" textLength="4.73" lengthAdjust="spacingAndGlyphs" >5</text>
<line x1="334.90" y1="303.10" x2="337.90" y2="303.10" stroke="#111" stroke-width="1"/>
<text x="332.40" y="306.00" font-size="9.0" text-anchor="end" fill="#2a2a2a" textLength="4.73" lengthAdjust="spacingAndGlyphs" >0</text>
<line x1="337.40" y1="308.70" x2="442.20" y2="308.70" stroke="#111" stroke-width="1"/>
<line x1="342.90" y1="308.70" x2="342.90" y2="311.20" stroke="#111" stroke-width="1"/>
<line x1="375.00" y1="308.70" x2="375.00" y2="311.20" stroke="#111" stroke-width="1"/>
<line x1="407.20" y1="308.70" x2="407.20" y2="311.20" stroke="#111" stroke-width="1"/>
<line x1="439.30" y1="308.70" x2="439.30" y2="311.20" stroke="#111" stroke-width="1"/>
<text x="342.90" y="321.60" font-size="9.0" text-anchor="middle" fill="#2a2a2a" textLength="4.73" lengthAdjust="spacingAndGlyphs" >0</text>
<text x="375.00" y="321.60" font-size="9.0" text-anchor="middle" fill="#2a2a2a" textLength="9.45" lengthAdjust="spacingAndGlyphs" >10</text>
<text x="407.20" y="321.60" font-size="9.0" text-anchor="middle" fill="#2a2a2a" textLength="9.45" lengthAdjust="spacingAndGlyphs" >20</text>
<text x="439.30" y="321.60" font-size="9.0" text-anchor="middle" fill="#2a2a2a" textLength="9.45" lengthAdjust="spacingAndGlyphs" >30</text>
<text x="389.90" y="334.90" font-size="9.3" text-anchor="middle" fill="#1a1a1a" stroke="#1a1a1a" stroke-width="0.32" textLength="65.10" lengthAdjust="spacingAndGlyphs" >&#945;IIb&#946;3<tspan font-size="6" dy="-2.5">*</tspan><tspan dy="2.5">+ platelets</tspan></text>
<text x="390.00" y="345.50" font-size="9.3" text-anchor="middle" fill="#1a1a1a" stroke="#1a1a1a" stroke-width="0.32" textLength="66.90" lengthAdjust="spacingAndGlyphs" >(% of total platelets)</text>
<text x="0" y="0" font-size="9.3" text-anchor="middle" fill="#1a1a1a" stroke="#1a1a1a" stroke-width="0.32" textLength="79.20" lengthAdjust="spacingAndGlyphs" transform="translate(317.80,252.10) rotate(-90)" >IgG<tspan font-size="6" dy="-3">+</tspan><tspan dy="3"> platelets (MFI IgG)</tspan></text>
<circle cx="342.90" cy="201.60" r="1.05" fill="#0d4a2f"/>
<circle cx="344.50" cy="215.00" r="1.05" fill="#0d4a2f"/>
<circle cx="375.70" cy="214.20" r="1.05" fill="#0d4a2f"/>
<circle cx="346.10" cy="227.00" r="1.05" fill="#0d4a2f"/>
<circle cx="348.10" cy="226.10" r="1.05" fill="#0d4a2f"/>
<circle cx="354.70" cy="233.90" r="1.05" fill="#0d4a2f"/>
<circle cx="370.20" cy="236.50" r="1.05" fill="#0d4a2f"/>
<circle cx="359.60" cy="239.30" r="1.05" fill="#0d4a2f"/>
<circle cx="344.80" cy="243.90" r="1.05" fill="#0d4a2f"/>
<circle cx="356.00" cy="243.40" r="1.05" fill="#0d4a2f"/>
<circle cx="387.10" cy="241.70" r="1.05" fill="#0d4a2f"/>
<circle cx="352.70" cy="247.10" r="1.05" fill="#0d4a2f"/>
<circle cx="387.10" cy="245.80" r="1.05" fill="#0d4a2f"/>
<circle cx="385.50" cy="249.10" r="1.05" fill="#0d4a2f"/>
<circle cx="352.20" cy="250.70" r="1.05" fill="#0d4a2f"/>
<circle cx="372.40" cy="250.70" r="1.05" fill="#0d4a2f"/>
<circle cx="342.90" cy="252.40" r="1.05" fill="#0d4a2f"/>
<circle cx="342.90" cy="254.00" r="1.05" fill="#0d4a2f"/>
<circle cx="346.10" cy="252.70" r="1.05" fill="#0d4a2f"/>
<circle cx="364.20" cy="254.30" r="1.05" fill="#0d4a2f"/>
<circle cx="345.20" cy="257.90" r="1.05" fill="#0d4a2f"/>
<circle cx="346.80" cy="259.00" r="1.05" fill="#0d4a2f"/>
<circle cx="348.40" cy="258.20" r="1.05" fill="#0d4a2f"/>
<circle cx="355.00" cy="257.90" r="1.05" fill="#0d4a2f"/>
<circle cx="378.40" cy="259.00" r="1.05" fill="#0d4a2f"/>
<circle cx="351.70" cy="260.70" r="1.05" fill="#0d4a2f"/>
<circle cx="356.00" cy="260.70" r="1.05" fill="#0d4a2f"/>
<circle cx="359.30" cy="263.40" r="1.05" fill="#0d4a2f"/>
<circle cx="354.70" cy="262.80" r="1.05" fill="#0d4a2f"/>
<circle cx="353.90" cy="264.80" r="1.05" fill="#0d4a2f"/>
<circle cx="352.20" cy="265.60" r="1.05" fill="#0d4a2f"/>
<circle cx="348.90" cy="266.40" r="1.05" fill="#0d4a2f"/>
<circle cx="344.80" cy="266.40" r="1.05" fill="#0d4a2f"/>
<circle cx="343.50" cy="268.40" r="1.05" fill="#0d4a2f"/>
<circle cx="375.20" cy="264.40" r="1.05" fill="#0d4a2f"/>
<circle cx="392.00" cy="265.60" r="1.05" fill="#0d4a2f"/>
<circle cx="366.10" cy="266.70" r="1.05" fill="#0d4a2f"/>
<circle cx="369.80" cy="266.70" r="1.05" fill="#0d4a2f"/>
<circle cx="384.50" cy="268.00" r="1.05" fill="#0d4a2f"/>
<circle cx="343.50" cy="271.30" r="1.05" fill="#0d4a2f"/>
<circle cx="345.20" cy="272.10" r="1.05" fill="#0d4a2f"/>
<circle cx="346.50" cy="271.00" r="1.05" fill="#0d4a2f"/>
<circle cx="353.90" cy="271.00" r="1.05" fill="#0d4a2f"/>
<circle cx="365.30" cy="270.50" r="1.05" fill="#0d4a2f"/>
<circle cx="370.20" cy="271.60" r="1.05" fill="#0d4a2f"/>
<circle cx="375.20" cy="270.00" r="1.05" fill="#0d4a2f"/>
<circle cx="350.60" cy="274.30" r="1.05" fill="#0d4a2f"/>
<circle cx="342.90" cy="275.40" r="1.05" fill="#0d4a2f"/>
<circle cx="344.50" cy="275.90" r="1.05" fill="#0d4a2f"/>
<circle cx="346.10" cy="274.60" r="1.05" fill="#0d4a2f"/>
<circle cx="346.80" cy="273.80" r="1.05" fill="#0d4a2f"/>
<circle cx="386.30" cy="275.90" r="1.05" fill="#0d4a2f"/>
<circle cx="350.10" cy="279.80" r="1.05" fill="#0d4a2f"/>
<circle cx="352.70" cy="279.50" r="1.05" fill="#0d4a2f"/>
<circle cx="359.30" cy="277.90" r="1.05" fill="#0d4a2f"/>
<circle cx="369.10" cy="280.30" r="1.05" fill="#0d4a2f"/>
<circle cx="343.50" cy="279.50" r="1.05" fill="#0d4a2f"/>
<circle cx="342.90" cy="281.10" r="1.05" fill="#0d4a2f"/>
<circle cx="344.50" cy="283.90" r="1.05" fill="#0d4a2f"/>
<circle cx="342.90" cy="286.40" r="1.05" fill="#0d4a2f"/>
<circle cx="344.50" cy="289.70" r="1.05" fill="#0d4a2f"/>
<circle cx="345.70" cy="294.30" r="1.05" fill="#0d4a2f"/>
<circle cx="342.90" cy="298.90" r="1.05" fill="#0d4a2f"/>
<circle cx="347.30" cy="303.80" r="1.05" fill="#0d4a2f"/>
<circle cx="429.70" cy="224.50" r="1.05" fill="#0d4a2f"/>
<circle cx="403.40" cy="251.50" r="1.05" fill="#0d4a2f"/>
<circle cx="407.50" cy="277.50" r="1.05" fill="#0d4a2f"/>
<text x="360.90" y="302.40" font-size="8.7" text-anchor="start" fill="#1a1a1a" stroke="#1a1a1a" stroke-width="0.12" textLength="71.00" lengthAdjust="spacingAndGlyphs" ><tspan font-style="italic">r</tspan><tspan font-size="6" dy="1.8">s</tspan><tspan dy="-1.8"> = 0.26 , </tspan><tspan font-style="italic">p</tspan> = 0.026</text>
<rect x="0.5" y="0.5" width="519" height="365" fill="none" stroke="#000" stroke-width="1.2"/>
</svg></div></body></html>
